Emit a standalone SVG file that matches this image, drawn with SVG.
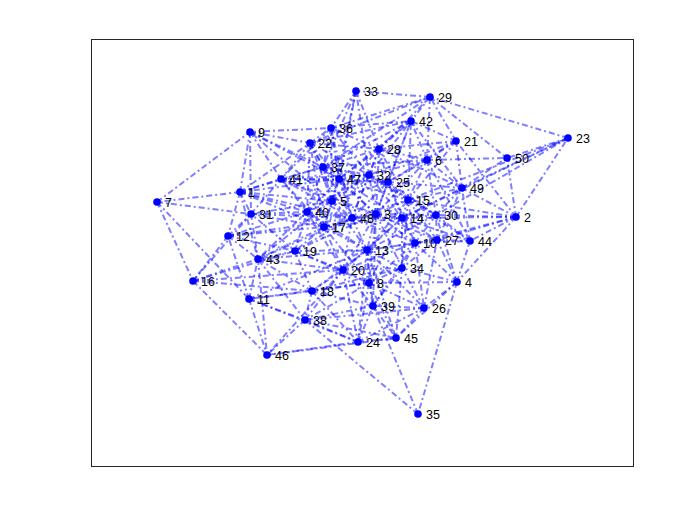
<svg xmlns="http://www.w3.org/2000/svg" width="700" height="525" viewBox="0 0 700 525">
<style>
.e{stroke:#0000ff;stroke-opacity:0.5;stroke-width:2;stroke-dasharray:6 3 2 3;fill:none}
.n circle{fill:#0000ff}
.n text{font-family:"Liberation Sans",Arial,sans-serif;font-size:12.5px;fill:#000}
</style>
<rect x="0" y="0" width="700" height="525" fill="#fff"/>
<rect x="91.5" y="39.5" width="542" height="427" fill="#fff" stroke="#262626" stroke-width="1"/>
<g id="connectors">
<line class="e" x1="240" y1="192" x2="332" y2="201"/>
<line class="e" x1="240" y1="192" x2="157" y2="202"/>
<line class="e" x1="240" y1="192" x2="250" y2="132"/>
<line class="e" x1="240" y1="192" x2="228" y2="236"/>
<line class="e" x1="240" y1="192" x2="310" y2="143"/>
<line class="e" x1="240" y1="192" x2="251" y2="214"/>
<line class="e" x1="240" y1="192" x2="323" y2="167"/>
<line class="e" x1="240" y1="192" x2="307" y2="212"/>
<line class="e" x1="240" y1="192" x2="281" y2="179"/>
<line class="e" x1="240" y1="192" x2="258" y2="259"/>
<line class="e" x1="240" y1="192" x2="339" y2="179"/>
<line class="e" x1="516" y1="217" x2="457" y2="282"/>
<line class="e" x1="516" y1="217" x2="415" y2="243"/>
<line class="e" x1="516" y1="217" x2="402" y2="218"/>
<line class="e" x1="516" y1="217" x2="408" y2="200"/>
<line class="e" x1="516" y1="217" x2="456" y2="141"/>
<line class="e" x1="516" y1="217" x2="568" y2="138"/>
<line class="e" x1="516" y1="217" x2="437" y2="240"/>
<line class="e" x1="516" y1="217" x2="436" y2="215"/>
<line class="e" x1="516" y1="217" x2="470" y2="241"/>
<line class="e" x1="516" y1="217" x2="462" y2="188"/>
<line class="e" x1="516" y1="217" x2="507" y2="158"/>
<line class="e" x1="376" y1="214" x2="332" y2="201"/>
<line class="e" x1="376" y1="214" x2="427" y2="160"/>
<line class="e" x1="376" y1="214" x2="369" y2="283"/>
<line class="e" x1="376" y1="214" x2="415" y2="243"/>
<line class="e" x1="376" y1="214" x2="367" y2="250"/>
<line class="e" x1="376" y1="214" x2="402" y2="218"/>
<line class="e" x1="376" y1="214" x2="408" y2="200"/>
<line class="e" x1="376" y1="214" x2="343" y2="270"/>
<line class="e" x1="376" y1="214" x2="388" y2="182"/>
<line class="e" x1="376" y1="214" x2="437" y2="240"/>
<line class="e" x1="376" y1="214" x2="436" y2="215"/>
<line class="e" x1="376" y1="214" x2="369" y2="175"/>
<line class="e" x1="376" y1="214" x2="339" y2="179"/>
<line class="e" x1="376" y1="214" x2="352" y2="218"/>
<line class="e" x1="457" y1="282" x2="369" y2="283"/>
<line class="e" x1="457" y1="282" x2="415" y2="243"/>
<line class="e" x1="457" y1="282" x2="424" y2="308"/>
<line class="e" x1="457" y1="282" x2="437" y2="240"/>
<line class="e" x1="457" y1="282" x2="436" y2="215"/>
<line class="e" x1="457" y1="282" x2="402" y2="268"/>
<line class="e" x1="457" y1="282" x2="418" y2="414"/>
<line class="e" x1="457" y1="282" x2="470" y2="241"/>
<line class="e" x1="457" y1="282" x2="396" y2="338"/>
<line class="e" x1="332" y1="201" x2="250" y2="132"/>
<line class="e" x1="332" y1="201" x2="367" y2="250"/>
<line class="e" x1="332" y1="201" x2="324" y2="227"/>
<line class="e" x1="332" y1="201" x2="310" y2="143"/>
<line class="e" x1="332" y1="201" x2="251" y2="214"/>
<line class="e" x1="332" y1="201" x2="369" y2="175"/>
<line class="e" x1="332" y1="201" x2="356" y2="91"/>
<line class="e" x1="332" y1="201" x2="331" y2="128"/>
<line class="e" x1="332" y1="201" x2="323" y2="167"/>
<line class="e" x1="332" y1="201" x2="307" y2="212"/>
<line class="e" x1="332" y1="201" x2="281" y2="179"/>
<line class="e" x1="332" y1="201" x2="258" y2="259"/>
<line class="e" x1="332" y1="201" x2="339" y2="179"/>
<line class="e" x1="332" y1="201" x2="352" y2="218"/>
<line class="e" x1="427" y1="160" x2="408" y2="200"/>
<line class="e" x1="427" y1="160" x2="456" y2="141"/>
<line class="e" x1="427" y1="160" x2="388" y2="182"/>
<line class="e" x1="427" y1="160" x2="379" y2="149"/>
<line class="e" x1="427" y1="160" x2="430" y2="97"/>
<line class="e" x1="427" y1="160" x2="436" y2="215"/>
<line class="e" x1="427" y1="160" x2="369" y2="175"/>
<line class="e" x1="427" y1="160" x2="411" y2="121"/>
<line class="e" x1="427" y1="160" x2="470" y2="241"/>
<line class="e" x1="427" y1="160" x2="462" y2="188"/>
<line class="e" x1="427" y1="160" x2="507" y2="158"/>
<line class="e" x1="157" y1="202" x2="250" y2="132"/>
<line class="e" x1="157" y1="202" x2="249" y2="299"/>
<line class="e" x1="157" y1="202" x2="193" y2="281"/>
<line class="e" x1="157" y1="202" x2="251" y2="214"/>
<line class="e" x1="369" y1="283" x2="249" y2="299"/>
<line class="e" x1="369" y1="283" x2="367" y2="250"/>
<line class="e" x1="369" y1="283" x2="324" y2="227"/>
<line class="e" x1="369" y1="283" x2="312" y2="291"/>
<line class="e" x1="369" y1="283" x2="343" y2="270"/>
<line class="e" x1="369" y1="283" x2="358" y2="342"/>
<line class="e" x1="369" y1="283" x2="424" y2="308"/>
<line class="e" x1="369" y1="283" x2="402" y2="268"/>
<line class="e" x1="369" y1="283" x2="305" y2="320"/>
<line class="e" x1="369" y1="283" x2="373" y2="306"/>
<line class="e" x1="369" y1="283" x2="396" y2="338"/>
<line class="e" x1="250" y1="132" x2="310" y2="143"/>
<line class="e" x1="250" y1="132" x2="251" y2="214"/>
<line class="e" x1="250" y1="132" x2="331" y2="128"/>
<line class="e" x1="250" y1="132" x2="323" y2="167"/>
<line class="e" x1="250" y1="132" x2="281" y2="179"/>
<line class="e" x1="250" y1="132" x2="339" y2="179"/>
<line class="e" x1="415" y1="243" x2="367" y2="250"/>
<line class="e" x1="415" y1="243" x2="402" y2="218"/>
<line class="e" x1="415" y1="243" x2="408" y2="200"/>
<line class="e" x1="415" y1="243" x2="424" y2="308"/>
<line class="e" x1="415" y1="243" x2="437" y2="240"/>
<line class="e" x1="415" y1="243" x2="436" y2="215"/>
<line class="e" x1="415" y1="243" x2="402" y2="268"/>
<line class="e" x1="415" y1="243" x2="373" y2="306"/>
<line class="e" x1="415" y1="243" x2="470" y2="241"/>
<line class="e" x1="415" y1="243" x2="352" y2="218"/>
<line class="e" x1="249" y1="299" x2="228" y2="236"/>
<line class="e" x1="249" y1="299" x2="367" y2="250"/>
<line class="e" x1="249" y1="299" x2="312" y2="291"/>
<line class="e" x1="249" y1="299" x2="358" y2="342"/>
<line class="e" x1="249" y1="299" x2="305" y2="320"/>
<line class="e" x1="249" y1="299" x2="258" y2="259"/>
<line class="e" x1="249" y1="299" x2="267" y2="355"/>
<line class="e" x1="228" y1="236" x2="193" y2="281"/>
<line class="e" x1="228" y1="236" x2="324" y2="227"/>
<line class="e" x1="228" y1="236" x2="295" y2="251"/>
<line class="e" x1="228" y1="236" x2="251" y2="214"/>
<line class="e" x1="228" y1="236" x2="307" y2="212"/>
<line class="e" x1="228" y1="236" x2="258" y2="259"/>
<line class="e" x1="367" y1="250" x2="402" y2="218"/>
<line class="e" x1="367" y1="250" x2="324" y2="227"/>
<line class="e" x1="367" y1="250" x2="312" y2="291"/>
<line class="e" x1="367" y1="250" x2="295" y2="251"/>
<line class="e" x1="367" y1="250" x2="343" y2="270"/>
<line class="e" x1="367" y1="250" x2="358" y2="342"/>
<line class="e" x1="367" y1="250" x2="424" y2="308"/>
<line class="e" x1="367" y1="250" x2="402" y2="268"/>
<line class="e" x1="367" y1="250" x2="373" y2="306"/>
<line class="e" x1="367" y1="250" x2="307" y2="212"/>
<line class="e" x1="367" y1="250" x2="396" y2="338"/>
<line class="e" x1="367" y1="250" x2="352" y2="218"/>
<line class="e" x1="402" y1="218" x2="408" y2="200"/>
<line class="e" x1="402" y1="218" x2="568" y2="138"/>
<line class="e" x1="402" y1="218" x2="388" y2="182"/>
<line class="e" x1="402" y1="218" x2="437" y2="240"/>
<line class="e" x1="402" y1="218" x2="436" y2="215"/>
<line class="e" x1="402" y1="218" x2="402" y2="268"/>
<line class="e" x1="402" y1="218" x2="352" y2="218"/>
<line class="e" x1="402" y1="218" x2="462" y2="188"/>
<line class="e" x1="408" y1="200" x2="456" y2="141"/>
<line class="e" x1="408" y1="200" x2="568" y2="138"/>
<line class="e" x1="408" y1="200" x2="388" y2="182"/>
<line class="e" x1="408" y1="200" x2="437" y2="240"/>
<line class="e" x1="408" y1="200" x2="379" y2="149"/>
<line class="e" x1="408" y1="200" x2="436" y2="215"/>
<line class="e" x1="408" y1="200" x2="369" y2="175"/>
<line class="e" x1="408" y1="200" x2="411" y2="121"/>
<line class="e" x1="408" y1="200" x2="470" y2="241"/>
<line class="e" x1="408" y1="200" x2="462" y2="188"/>
<line class="e" x1="193" y1="281" x2="312" y2="291"/>
<line class="e" x1="193" y1="281" x2="295" y2="251"/>
<line class="e" x1="193" y1="281" x2="343" y2="270"/>
<line class="e" x1="193" y1="281" x2="251" y2="214"/>
<line class="e" x1="193" y1="281" x2="258" y2="259"/>
<line class="e" x1="193" y1="281" x2="267" y2="355"/>
<line class="e" x1="324" y1="227" x2="295" y2="251"/>
<line class="e" x1="324" y1="227" x2="343" y2="270"/>
<line class="e" x1="324" y1="227" x2="310" y2="143"/>
<line class="e" x1="324" y1="227" x2="251" y2="214"/>
<line class="e" x1="324" y1="227" x2="307" y2="212"/>
<line class="e" x1="324" y1="227" x2="281" y2="179"/>
<line class="e" x1="324" y1="227" x2="258" y2="259"/>
<line class="e" x1="324" y1="227" x2="339" y2="179"/>
<line class="e" x1="324" y1="227" x2="352" y2="218"/>
<line class="e" x1="312" y1="291" x2="295" y2="251"/>
<line class="e" x1="312" y1="291" x2="343" y2="270"/>
<line class="e" x1="312" y1="291" x2="358" y2="342"/>
<line class="e" x1="312" y1="291" x2="402" y2="268"/>
<line class="e" x1="312" y1="291" x2="305" y2="320"/>
<line class="e" x1="312" y1="291" x2="373" y2="306"/>
<line class="e" x1="312" y1="291" x2="258" y2="259"/>
<line class="e" x1="295" y1="251" x2="343" y2="270"/>
<line class="e" x1="295" y1="251" x2="251" y2="214"/>
<line class="e" x1="295" y1="251" x2="307" y2="212"/>
<line class="e" x1="295" y1="251" x2="258" y2="259"/>
<line class="e" x1="295" y1="251" x2="352" y2="218"/>
<line class="e" x1="343" y1="270" x2="358" y2="342"/>
<line class="e" x1="343" y1="270" x2="402" y2="268"/>
<line class="e" x1="343" y1="270" x2="305" y2="320"/>
<line class="e" x1="343" y1="270" x2="373" y2="306"/>
<line class="e" x1="343" y1="270" x2="307" y2="212"/>
<line class="e" x1="343" y1="270" x2="258" y2="259"/>
<line class="e" x1="343" y1="270" x2="267" y2="355"/>
<line class="e" x1="343" y1="270" x2="352" y2="218"/>
<line class="e" x1="456" y1="141" x2="388" y2="182"/>
<line class="e" x1="456" y1="141" x2="379" y2="149"/>
<line class="e" x1="456" y1="141" x2="430" y2="97"/>
<line class="e" x1="456" y1="141" x2="369" y2="175"/>
<line class="e" x1="456" y1="141" x2="411" y2="121"/>
<line class="e" x1="456" y1="141" x2="462" y2="188"/>
<line class="e" x1="310" y1="143" x2="379" y2="149"/>
<line class="e" x1="310" y1="143" x2="430" y2="97"/>
<line class="e" x1="310" y1="143" x2="331" y2="128"/>
<line class="e" x1="310" y1="143" x2="323" y2="167"/>
<line class="e" x1="310" y1="143" x2="307" y2="212"/>
<line class="e" x1="310" y1="143" x2="281" y2="179"/>
<line class="e" x1="310" y1="143" x2="411" y2="121"/>
<line class="e" x1="310" y1="143" x2="339" y2="179"/>
<line class="e" x1="568" y1="138" x2="430" y2="97"/>
<line class="e" x1="568" y1="138" x2="436" y2="215"/>
<line class="e" x1="568" y1="138" x2="462" y2="188"/>
<line class="e" x1="568" y1="138" x2="507" y2="158"/>
<line class="e" x1="358" y1="342" x2="424" y2="308"/>
<line class="e" x1="358" y1="342" x2="305" y2="320"/>
<line class="e" x1="358" y1="342" x2="373" y2="306"/>
<line class="e" x1="358" y1="342" x2="396" y2="338"/>
<line class="e" x1="358" y1="342" x2="267" y2="355"/>
<line class="e" x1="388" y1="182" x2="379" y2="149"/>
<line class="e" x1="388" y1="182" x2="436" y2="215"/>
<line class="e" x1="388" y1="182" x2="369" y2="175"/>
<line class="e" x1="388" y1="182" x2="411" y2="121"/>
<line class="e" x1="388" y1="182" x2="339" y2="179"/>
<line class="e" x1="388" y1="182" x2="462" y2="188"/>
<line class="e" x1="424" y1="308" x2="437" y2="240"/>
<line class="e" x1="424" y1="308" x2="402" y2="268"/>
<line class="e" x1="424" y1="308" x2="305" y2="320"/>
<line class="e" x1="424" y1="308" x2="373" y2="306"/>
<line class="e" x1="424" y1="308" x2="396" y2="338"/>
<line class="e" x1="437" y1="240" x2="436" y2="215"/>
<line class="e" x1="437" y1="240" x2="402" y2="268"/>
<line class="e" x1="437" y1="240" x2="470" y2="241"/>
<line class="e" x1="437" y1="240" x2="462" y2="188"/>
<line class="e" x1="379" y1="149" x2="430" y2="97"/>
<line class="e" x1="379" y1="149" x2="369" y2="175"/>
<line class="e" x1="379" y1="149" x2="356" y2="91"/>
<line class="e" x1="379" y1="149" x2="331" y2="128"/>
<line class="e" x1="379" y1="149" x2="323" y2="167"/>
<line class="e" x1="379" y1="149" x2="411" y2="121"/>
<line class="e" x1="379" y1="149" x2="339" y2="179"/>
<line class="e" x1="379" y1="149" x2="352" y2="218"/>
<line class="e" x1="430" y1="97" x2="356" y2="91"/>
<line class="e" x1="430" y1="97" x2="331" y2="128"/>
<line class="e" x1="430" y1="97" x2="323" y2="167"/>
<line class="e" x1="430" y1="97" x2="411" y2="121"/>
<line class="e" x1="430" y1="97" x2="507" y2="158"/>
<line class="e" x1="436" y1="215" x2="470" y2="241"/>
<line class="e" x1="436" y1="215" x2="462" y2="188"/>
<line class="e" x1="251" y1="214" x2="307" y2="212"/>
<line class="e" x1="251" y1="214" x2="281" y2="179"/>
<line class="e" x1="251" y1="214" x2="258" y2="259"/>
<line class="e" x1="369" y1="175" x2="356" y2="91"/>
<line class="e" x1="369" y1="175" x2="323" y2="167"/>
<line class="e" x1="369" y1="175" x2="281" y2="179"/>
<line class="e" x1="369" y1="175" x2="411" y2="121"/>
<line class="e" x1="369" y1="175" x2="339" y2="179"/>
<line class="e" x1="369" y1="175" x2="352" y2="218"/>
<line class="e" x1="356" y1="91" x2="331" y2="128"/>
<line class="e" x1="356" y1="91" x2="323" y2="167"/>
<line class="e" x1="356" y1="91" x2="339" y2="179"/>
<line class="e" x1="402" y1="268" x2="373" y2="306"/>
<line class="e" x1="402" y1="268" x2="396" y2="338"/>
<line class="e" x1="418" y1="414" x2="305" y2="320"/>
<line class="e" x1="418" y1="414" x2="373" y2="306"/>
<line class="e" x1="331" y1="128" x2="323" y2="167"/>
<line class="e" x1="331" y1="128" x2="281" y2="179"/>
<line class="e" x1="331" y1="128" x2="411" y2="121"/>
<line class="e" x1="331" y1="128" x2="339" y2="179"/>
<line class="e" x1="323" y1="167" x2="307" y2="212"/>
<line class="e" x1="323" y1="167" x2="281" y2="179"/>
<line class="e" x1="323" y1="167" x2="411" y2="121"/>
<line class="e" x1="323" y1="167" x2="339" y2="179"/>
<line class="e" x1="305" y1="320" x2="373" y2="306"/>
<line class="e" x1="305" y1="320" x2="258" y2="259"/>
<line class="e" x1="305" y1="320" x2="396" y2="338"/>
<line class="e" x1="305" y1="320" x2="267" y2="355"/>
<line class="e" x1="373" y1="306" x2="396" y2="338"/>
<line class="e" x1="307" y1="212" x2="281" y2="179"/>
<line class="e" x1="307" y1="212" x2="258" y2="259"/>
<line class="e" x1="307" y1="212" x2="352" y2="218"/>
<line class="e" x1="281" y1="179" x2="339" y2="179"/>
<line class="e" x1="281" y1="179" x2="352" y2="218"/>
<line class="e" x1="411" y1="121" x2="339" y2="179"/>
<line class="e" x1="411" y1="121" x2="462" y2="188"/>
<line class="e" x1="258" y1="259" x2="267" y2="355"/>
<line class="e" x1="470" y1="241" x2="462" y2="188"/>
<line class="e" x1="396" y1="338" x2="267" y2="355"/>
<line class="e" x1="462" y1="188" x2="507" y2="158"/>
<line class="e" x1="339" y1="179" x2="352" y2="218"/>
<line class="e" x1="324" y1="227" x2="376" y2="214"/>
<line class="e" x1="324" y1="227" x2="402" y2="218"/>
<line class="e" x1="352" y1="218" x2="388" y2="182"/>
<line class="e" x1="352" y1="218" x2="408" y2="200"/>
<line class="e" x1="376" y1="214" x2="379" y2="149"/>
<line class="e" x1="376" y1="214" x2="323" y2="167"/>
<line class="e" x1="332" y1="201" x2="379" y2="149"/>
<line class="e" x1="332" y1="201" x2="388" y2="182"/>
<line class="e" x1="307" y1="212" x2="339" y2="179"/>
<line class="e" x1="307" y1="212" x2="369" y2="175"/>
<line class="e" x1="324" y1="227" x2="369" y2="175"/>
<line class="e" x1="367" y1="250" x2="408" y2="200"/>
<line class="e" x1="367" y1="250" x2="436" y2="215"/>
<line class="e" x1="343" y1="270" x2="402" y2="218"/>
<line class="e" x1="343" y1="270" x2="415" y2="243"/>
<line class="e" x1="369" y1="283" x2="415" y2="243"/>
<line class="e" x1="369" y1="283" x2="402" y2="218"/>
<line class="e" x1="295" y1="251" x2="376" y2="214"/>
<line class="e" x1="281" y1="179" x2="376" y2="214"/>
<line class="e" x1="281" y1="179" x2="388" y2="182"/>
<line class="e" x1="323" y1="167" x2="388" y2="182"/>
<line class="e" x1="310" y1="143" x2="369" y2="175"/>
<line class="e" x1="310" y1="143" x2="352" y2="218"/>
<line class="e" x1="331" y1="128" x2="369" y2="175"/>
<line class="e" x1="339" y1="179" x2="408" y2="200"/>
<line class="e" x1="339" y1="179" x2="402" y2="218"/>
<line class="e" x1="369" y1="175" x2="402" y2="218"/>
<line class="e" x1="369" y1="175" x2="436" y2="215"/>
<line class="e" x1="388" y1="182" x2="415" y2="243"/>
<line class="e" x1="408" y1="200" x2="402" y2="268"/>
<line class="e" x1="402" y1="218" x2="470" y2="241"/>
<line class="e" x1="437" y1="240" x2="367" y2="250"/>
<line class="e" x1="376" y1="214" x2="402" y2="268"/>
<line class="e" x1="376" y1="214" x2="373" y2="306"/>
<line class="e" x1="251" y1="214" x2="352" y2="218"/>
<line class="e" x1="240" y1="192" x2="352" y2="218"/>
<line class="e" x1="240" y1="192" x2="324" y2="227"/>
<line class="e" x1="258" y1="259" x2="367" y2="250"/>
<line class="e" x1="258" y1="259" x2="352" y2="218"/>
<line class="e" x1="228" y1="236" x2="352" y2="218"/>
<line class="e" x1="295" y1="251" x2="369" y2="283"/>
<line class="e" x1="331" y1="128" x2="352" y2="218"/>
<line class="e" x1="323" y1="167" x2="427" y2="160"/>
<line class="e" x1="379" y1="149" x2="462" y2="188"/>
<line class="e" x1="411" y1="121" x2="376" y2="214"/>
</g>
<g id="n1" class="n"><circle cx="240" cy="192" r="3.8"/><text x="248" y="197">1</text></g>
<g id="n2" class="n"><circle cx="516" cy="217" r="3.8"/><text x="524" y="222">2</text></g>
<g id="n3" class="n"><circle cx="376" cy="214" r="3.8"/><text x="384" y="219">3</text></g>
<g id="n4" class="n"><circle cx="457" cy="282" r="3.8"/><text x="465" y="287">4</text></g>
<g id="n5" class="n"><circle cx="332" cy="201" r="3.8"/><text x="340" y="206">5</text></g>
<g id="n6" class="n"><circle cx="427" cy="160" r="3.8"/><text x="435" y="165">6</text></g>
<g id="n7" class="n"><circle cx="157" cy="202" r="3.8"/><text x="165" y="207">7</text></g>
<g id="n8" class="n"><circle cx="369" cy="283" r="3.8"/><text x="377" y="288">8</text></g>
<g id="n9" class="n"><circle cx="250" cy="132" r="3.8"/><text x="258" y="137">9</text></g>
<g id="n10" class="n"><circle cx="415" cy="243" r="3.8"/><text x="423" y="248">10</text></g>
<g id="n11" class="n"><circle cx="249" cy="299" r="3.8"/><text x="257" y="304">11</text></g>
<g id="n12" class="n"><circle cx="228" cy="236" r="3.8"/><text x="236" y="241">12</text></g>
<g id="n13" class="n"><circle cx="367" cy="250" r="3.8"/><text x="375" y="255">13</text></g>
<g id="n14" class="n"><circle cx="402" cy="218" r="3.8"/><text x="410" y="223">14</text></g>
<g id="n15" class="n"><circle cx="408" cy="200" r="3.8"/><text x="416" y="205">15</text></g>
<g id="n16" class="n"><circle cx="193" cy="281" r="3.8"/><text x="201" y="286">16</text></g>
<g id="n17" class="n"><circle cx="324" cy="227" r="3.8"/><text x="332" y="232">17</text></g>
<g id="n18" class="n"><circle cx="312" cy="291" r="3.8"/><text x="320" y="296">18</text></g>
<g id="n19" class="n"><circle cx="295" cy="251" r="3.8"/><text x="303" y="256">19</text></g>
<g id="n20" class="n"><circle cx="343" cy="270" r="3.8"/><text x="351" y="275">20</text></g>
<g id="n21" class="n"><circle cx="456" cy="141" r="3.8"/><text x="464" y="146">21</text></g>
<g id="n22" class="n"><circle cx="310" cy="143" r="3.8"/><text x="318" y="148">22</text></g>
<g id="n23" class="n"><circle cx="568" cy="138" r="3.8"/><text x="576" y="143">23</text></g>
<g id="n24" class="n"><circle cx="358" cy="342" r="3.8"/><text x="366" y="347">24</text></g>
<g id="n25" class="n"><circle cx="388" cy="182" r="3.8"/><text x="396" y="187">25</text></g>
<g id="n26" class="n"><circle cx="424" cy="308" r="3.8"/><text x="432" y="313">26</text></g>
<g id="n27" class="n"><circle cx="437" cy="240" r="3.8"/><text x="445" y="245">27</text></g>
<g id="n28" class="n"><circle cx="379" cy="149" r="3.8"/><text x="387" y="154">28</text></g>
<g id="n29" class="n"><circle cx="430" cy="97" r="3.8"/><text x="438" y="102">29</text></g>
<g id="n30" class="n"><circle cx="436" cy="215" r="3.8"/><text x="444" y="220">30</text></g>
<g id="n31" class="n"><circle cx="251" cy="214" r="3.8"/><text x="259" y="219">31</text></g>
<g id="n32" class="n"><circle cx="369" cy="175" r="3.8"/><text x="377" y="180">32</text></g>
<g id="n33" class="n"><circle cx="356" cy="91" r="3.8"/><text x="364" y="96">33</text></g>
<g id="n34" class="n"><circle cx="402" cy="268" r="3.8"/><text x="410" y="273">34</text></g>
<g id="n35" class="n"><circle cx="418" cy="414" r="3.8"/><text x="426" y="419">35</text></g>
<g id="n36" class="n"><circle cx="331" cy="128" r="3.8"/><text x="339" y="133">36</text></g>
<g id="n37" class="n"><circle cx="323" cy="167" r="3.8"/><text x="331" y="172">37</text></g>
<g id="n38" class="n"><circle cx="305" cy="320" r="3.8"/><text x="313" y="325">38</text></g>
<g id="n39" class="n"><circle cx="373" cy="306" r="3.8"/><text x="381" y="311">39</text></g>
<g id="n40" class="n"><circle cx="307" cy="212" r="3.8"/><text x="315" y="217">40</text></g>
<g id="n41" class="n"><circle cx="281" cy="179" r="3.8"/><text x="289" y="184">41</text></g>
<g id="n42" class="n"><circle cx="411" cy="121" r="3.8"/><text x="419" y="126">42</text></g>
<g id="n43" class="n"><circle cx="258" cy="259" r="3.8"/><text x="266" y="264">43</text></g>
<g id="n44" class="n"><circle cx="470" cy="241" r="3.8"/><text x="478" y="246">44</text></g>
<g id="n45" class="n"><circle cx="396" cy="338" r="3.8"/><text x="404" y="343">45</text></g>
<g id="n46" class="n"><circle cx="267" cy="355" r="3.8"/><text x="275" y="360">46</text></g>
<g id="n47" class="n"><circle cx="339" cy="179" r="3.8"/><text x="347" y="184">47</text></g>
<g id="n48" class="n"><circle cx="352" cy="218" r="3.8"/><text x="360" y="223">48</text></g>
<g id="n49" class="n"><circle cx="462" cy="188" r="3.8"/><text x="470" y="193">49</text></g>
<g id="n50" class="n"><circle cx="507" cy="158" r="3.8"/><text x="515" y="163">50</text></g>
</svg>
